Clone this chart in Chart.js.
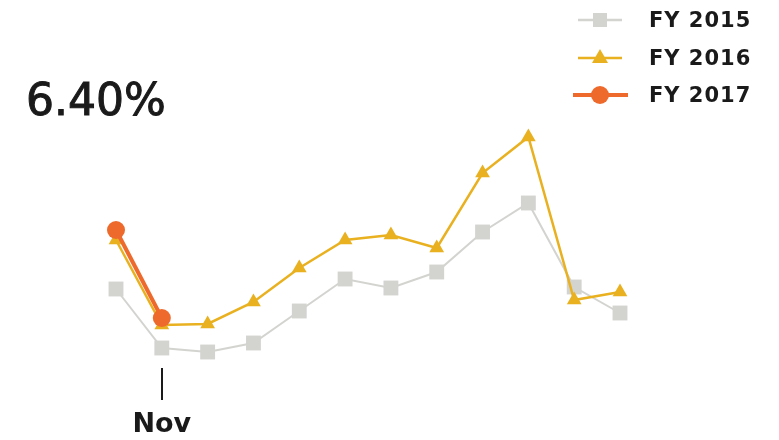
<!DOCTYPE html>
<html>
<head>
<meta charset="utf-8">
<script src="https://cdn.jsdelivr.net/npm/chart.js@4/dist/chart.umd.min.js"></script>
<style>
  html, body { margin: 0; padding: 0; background: #fff; }
  #wrap { position: relative; width: 779px; height: 440px; overflow: hidden; }
  #c { position: absolute; left: 0; top: 0; }
  #big { position: absolute; left: 26px; top: 74px; font-family: "DejaVu Sans", sans-serif; font-size: 44px; color: #1a1a1a; -webkit-text-stroke: 1px #1a1a1a; }
  .leg { position: absolute; left: 570px; height: 30px; display: flex; align-items: center; font-family: "DejaVu Sans", sans-serif; font-weight: bold; font-size: 21px; color: #1a1a1a; letter-spacing: 1px; }
  .leg svg { margin-right: 19px; }
</style>
</head>
<body>
<div id="wrap">
  <canvas id="c" width="779" height="440"></canvas>
  <div id="big">6.40%</div>
  <div class="leg" style="top:5px"><svg width="60" height="30"><line x1="8" y1="15" x2="52" y2="15" stroke="#d3d3d0" stroke-width="2.5"/><rect x="23" y="8" width="14" height="14" fill="#d3d3d0"/></svg>FY 2015</div>
  <div class="leg" style="top:43px"><svg width="60" height="30"><line x1="8" y1="15" x2="52" y2="15" stroke="#e9b120" stroke-width="2.5"/><polygon points="30,6 38,20 22,20" fill="#e9b120"/></svg>FY 2016</div>
  <div class="leg" style="top:80px"><svg width="60" height="30"><line x1="3" y1="15" x2="58" y2="15" stroke="#ee6a2c" stroke-width="4"/><circle cx="30" cy="15" r="9" fill="#ee6a2c"/></svg>FY 2017</div>
</div>
<script>
const months = ["Oct","Nov","Dec","Jan","Feb","Mar","Apr","May","Jun","Jul","Aug","Sep"];
const shownLabels = ["Nov"];
const fy2015 = [6.98, 5.80, 5.72, 5.90, 6.54, 7.18, 7.00, 7.32, 8.12, 8.70, 7.02, 6.50];
const fy2016 = [7.96, 6.26, 6.28, 6.72, 7.40, 7.96, 8.06, 7.80, 9.30, 10.02, 6.76, 6.92];
const fy2017 = [8.16, 6.40];

new Chart(document.getElementById('c'), {
  type: 'line',
  data: {
    labels: months,
    datasets: [
      { label: 'FY 2017', data: fy2017, borderColor: '#ee6a2c', backgroundColor: '#ee6a2c', borderWidth: 4, pointStyle: 'circle', pointRadius: 9, pointBorderWidth: 0, order: 1, clip: false },
      { label: 'FY 2016', data: fy2016, borderColor: '#e9b120', backgroundColor: '#e9b120', borderWidth: 2.5, pointStyle: 'triangle', pointRadius: 8.5, pointBorderWidth: 0, order: 2, clip: false },
      { label: 'FY 2015', data: fy2015, borderColor: '#d3d3d0', backgroundColor: '#d3d3d0', borderWidth: 2, pointStyle: 'rect', pointRadius: 10.5, pointBorderWidth: 0, order: 3, clip: false }
    ]
  },
  options: {
    responsive: false,
    animation: false,
    events: [],
    layout: { padding: { left: 116, right: 159, top: 102, bottom: 0 } },
    plugins: { legend: { display: false }, tooltip: { enabled: false } },
    scales: {
      y: { display: false, min: 5.40, max: 10.72 },
      x: {
        offset: false,
        border: { display: false },
        grid: {
          display: true, drawOnChartArea: false, drawTicks: true, tickLength: 32,
          lineWidth: 2,
          color: (ctx) => (shownLabels.includes(months[ctx.index]) ? '#1a1a1a' : 'rgba(0,0,0,0)')
        },
        ticks: {
          autoSkip: false, maxRotation: 0, padding: 9,
          color: '#1a1a1a',
          font: { family: 'DejaVu Sans', size: 27, weight: 'bold' },
          callback: function(v, i) { return shownLabels.includes(months[i]) ? months[i] : ''; }
        },
        afterFit: function(scale) { scale.height = 72; }
      }
    }
  }
});
</script>
</body>
</html>
